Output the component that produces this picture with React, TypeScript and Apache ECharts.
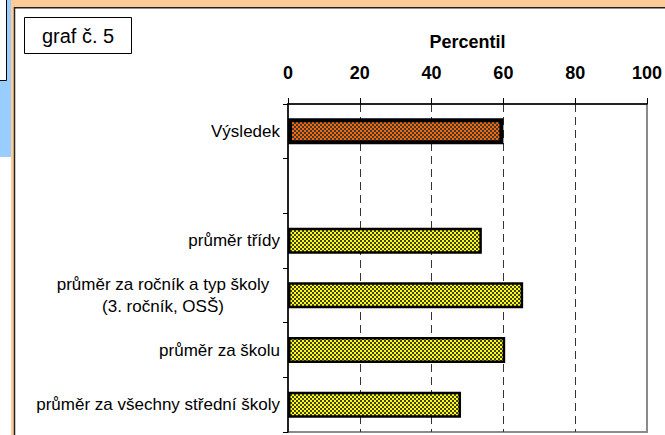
import React, { useEffect, useRef } from "react";
import * as echarts from "echarts";

const categories = [
  "Výsledek",
  "",
  "průměr třídy",
  "průměr za ročník a typ školy\n(3. ročník, OSŠ)",
  "průměr za školu",
  "průměr za všechny střední školy",
];
const values: (number | null)[] = [60, null, 54, 65.5, 60.5, 48.2];
const xTicks = [0, 20, 40, 60, 80, 100];
const axisTitle = "Percentil";
const chartLabel = "graf č. 5";

const FONT = "'Liberation Sans', Arial, sans-serif";

function checker(c1: string, c2: string, s: number) {
  const cv = document.createElement("canvas");
  cv.width = s * 2;
  cv.height = s * 2;
  const ctx = cv.getContext("2d")!;
  ctx.fillStyle = c1;
  ctx.fillRect(0, 0, s * 2, s * 2);
  ctx.fillStyle = c2;
  ctx.fillRect(0, 0, s, s);
  ctx.fillRect(s, s, s, s);
  return cv;
}

export default function App() {
  const ref = useRef<HTMLDivElement>(null);
  useEffect(() => {
    if (!ref.current) return;
    const chart = echarts.init(ref.current, null, { renderer: "svg" });
    const orangePat = { image: checker("#FF6600", "#3a3a3a", 2), repeat: "repeat" };
    const yellowPat = { image: checker("#FFFF00", "#404030", 2), repeat: "repeat" };
    const data = values.map((v, i) => {
      if (v === null) return null;
      const first = i === 0;
      return {
        value: v,
        itemStyle: {
          color: first ? orangePat : yellowPat,
          borderColor: "#000",
          borderWidth: first ? 4 : 2.5,
        },
      };
    });
    chart.setOption({
      animation: false,
      backgroundColor: "#fff",
      textStyle: { fontFamily: FONT, color: "#000" },
      grid: {
        left: 288,
        right: 17,
        top: 104,
        bottom: 3,
        show: true,
        borderColor: "#8a8a8a",
        borderWidth: 2,
      },
      xAxis: {
        type: "value",
        position: "top",
        min: xTicks[0],
        max: xTicks[xTicks.length - 1],
        interval: xTicks[1] - xTicks[0],
        name: axisTitle,
        nameLocation: "middle",
        nameGap: 53,
        nameTextStyle: { fontSize: 18, fontWeight: "bold", color: "#000", fontFamily: FONT },
        axisLine: { show: true, lineStyle: { color: "#000", width: 1.5 } },
        axisTick: { show: true, length: 6, lineStyle: { color: "#000", width: 1 } },
        axisLabel: { fontSize: 18, fontWeight: "bold", color: "#000", margin: 22, fontFamily: FONT },
        splitLine: {
          show: true,
          showMinLine: false,
          showMaxLine: false,
          lineStyle: { color: "#333", width: 1, type: [8, 5] },
        },
      },
      yAxis: {
        type: "category",
        inverse: true,
        data: categories,
        axisLine: { show: true, lineStyle: { color: "#000", width: 1.5 } },
        axisTick: { show: true, length: 5, inside: false, lineStyle: { color: "#000", width: 1 } },
        axisLabel: {
          fontSize: 17,
          color: "#000",
          margin: 8,
          fontFamily: FONT,
          lineHeight: 22,
          formatter: (v: string) => {
            if (v.indexOf("\n") >= 0) {
              return v
                .split("\n")
                .map((s) => "{c|" + s + "}")
                .join("\n");
            }
            return v;
          },
          rich: {
            c: { width: 234, align: "center", fontSize: 17, fontFamily: FONT, color: "#000", lineHeight: 22 },
          },
        },
        splitLine: { show: false },
      },
      series: [
        {
          type: "bar",
          data,
          barWidth: 26,
        },
      ],
      graphic: [
        { type: "rect", z: -10, shape: { x: 0, y: 0, width: 11, height: 157 }, style: { fill: "#99CCFF" } },
        { type: "rect", z: -9, shape: { x: -2, y: -2, width: 8.5, height: 82.5 }, style: { fill: "#fff", stroke: "#000", lineWidth: 1 } },
        { type: "rect", z: -10, shape: { x: 11, y: 0, width: 654, height: 7 }, style: { fill: "#FFCC99" } },
        { type: "rect", z: -10, shape: { x: 11, y: 0, width: 3, height: 435 }, style: { fill: "#FFCC99" } },
        { type: "line", z: 10, shape: { x1: 14.5, y1: 7, x2: 14.5, y2: 435 }, style: { stroke: "#222", lineWidth: 1.5 } },
        { type: "line", z: 10, shape: { x1: 14, y1: 7.75, x2: 665, y2: 7.75 }, style: { stroke: "#222", lineWidth: 1.5 } },
        {
          type: "rect",
          z: 10,
          shape: { x: 24.5, y: 17.5, width: 107, height: 36 },
          style: { fill: "#fff", stroke: "#000", lineWidth: 1 },
        },
        {
          type: "text",
          z: 11,
          x: 78,
          y: 36,
          style: {
            text: chartLabel,
            fill: "#000",
            font: "20px " + FONT,
            align: "center",
            verticalAlign: "middle",
          },
        },
      ],
    });
    return () => chart.dispose();
  }, []);
  return (
    <div
      ref={ref}
      style={{ position: "fixed", left: 0, top: 0, width: 665, height: 435 }}
    />
  );
}
